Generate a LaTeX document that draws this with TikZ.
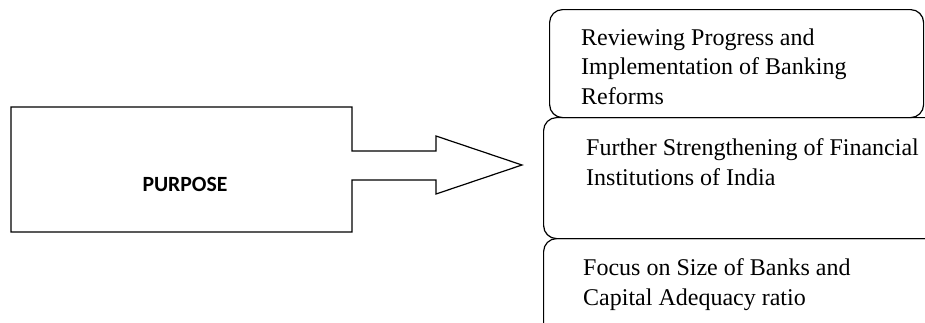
\documentclass[tikz,border=0pt]{standalone}
\usepackage{fontspec}
\setmainfont{Liberation Serif}
\newfontfamily\labelfont{Carlito}
\begin{document}
\begin{tikzpicture}[x=1pt,y=-1pt,
  outline/.style={draw=black, line width=1.2pt, line join=miter},
  roundbox/.style={draw=black, line width=1.2pt, rounded corners=13pt,
    rectangle, anchor=north west, inner sep=0pt},
  boxtext/.style={anchor=north west, inner sep=0pt, align=left,
    font=\fontsize{24}{29.5}\selectfont},
  purposetext/.style={anchor=base, inner sep=0pt,
    font=\labelfont\bfseries\fontsize{21.7}{26}\selectfont},
]
\useasboundingbox (0,0) rectangle (925,322);
\clip (0,0) rectangle (925,322);

% block with the broad arrow leaving its right side
\coordinate (bl) at (11,232);
\coordinate (tl) at (11,107);
\coordinate (tr) at (352,107);
\coordinate (st) at (352,151);
\coordinate (ht1) at (436,151);
\coordinate (ht2) at (436,136);
\coordinate (tip) at (522,165);
\coordinate (hb2) at (436,194);
\coordinate (hb1) at (436,180);
\coordinate (sb) at (352,180);
\coordinate (br) at (352,232);
\draw[outline] (tl) -- (tr) -- (st) -- (ht1) -- (ht2) -- (tip) -- (hb2)
  -- (hb1) -- (sb) -- (br) -- (bl) -- cycle;
\node[purposetext] (purpose) at (185,191) {PURPOSE};

% rounded boxes on the right
\node[roundbox, minimum width=374pt, minimum height=108pt] (r1) at (549,9) {};
\node[roundbox, minimum width=400pt, minimum height=121pt] (r2) at (543,117) {};
\node[roundbox, minimum width=400pt, minimum height=110pt] (r3) at (543,238) {};

\node[boxtext] (t1) at (581,28.5) {Reviewing Progress and\\Implementation of Banking\\Reforms};
\node[boxtext] (t2) at (586,138.5) {Further Strengthening of Financial\\Institutions of India};
\node[boxtext] (t3) at (583,258.5) {Focus on Size of Banks and\\Capital Adequacy ratio};
\end{tikzpicture}
\end{document}
